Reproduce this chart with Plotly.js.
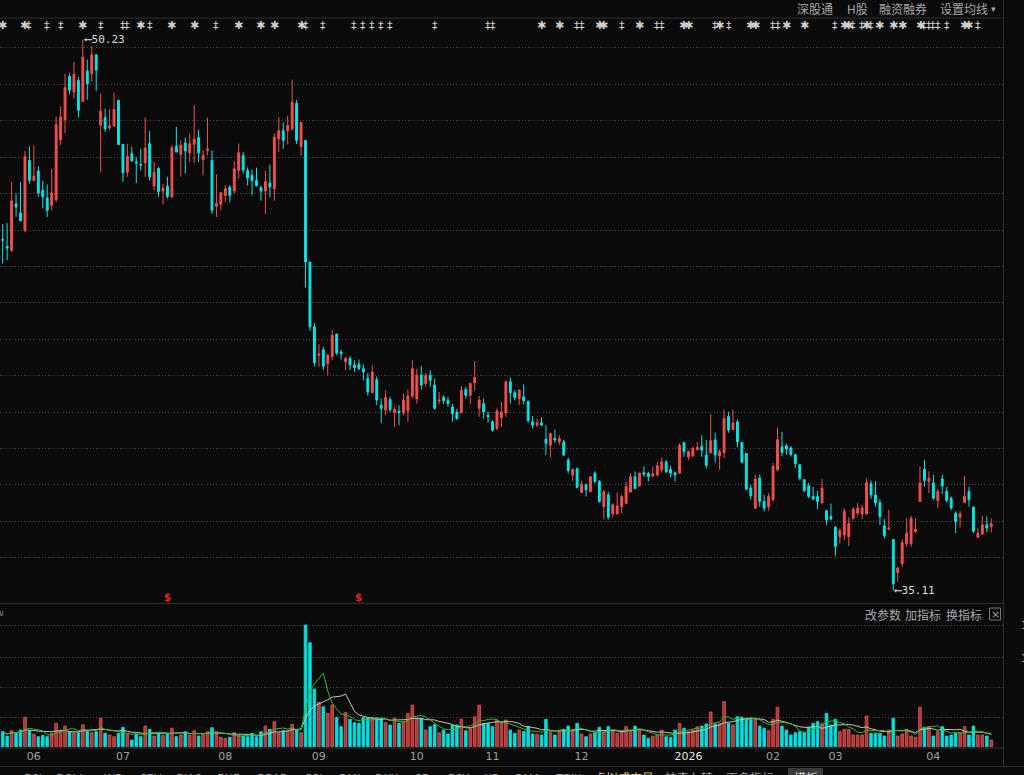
<!DOCTYPE html>
<html><head><meta charset="utf-8">
<script src="https://cdn.plot.ly/plotly-3.0.1.min.js"></script>
<style>html,body{margin:0;padding:0;background:#0a0a0a;overflow:hidden}#chart{width:1024px;height:775px}</style>
</head><body><div id="chart"></div>
<script>
// ---- price data (one entry per trading day) ----
const openP = [44.74,44.55,44.44,45.72,45.47,44.99,46.91,46.36,46.62,46.09,
45.88,45.68,45.83,47.48,48.03,49.22,48.79,49.11,48.53,49.37,
49.29,49.81,47.88,48.09,47.81,47.86,48.56,47.35,46.59,47.10,
46.87,46.80,46.84,47.37,46.21,46.69,46.07,46.20,45.91,47.30,
47.08,47.39,47.12,47.35,47.54,46.93,47.19,46.91,45.65,45.71,
45.95,46.18,46.07,46.64,47.05,46.63,46.50,46.36,46.16,46.07,
46.29,46.13,47.50,47.73,47.73,47.78,48.48,47.29,47.46,44.12,
42.34,41.56,41.71,41.33,41.53,42.14,41.65,41.38,41.47,41.29,
41.31,41.19,40.92,40.53,40.89,40.19,40.05,40.34,39.98,40.02,
39.98,40.03,40.44,40.37,41.01,40.78,41.01,40.74,40.30,40.40,
40.31,40.14,40.00,39.98,40.62,40.46,40.80,40.10,40.23,39.91,
39.73,39.55,39.85,39.98,40.83,40.53,40.37,40.42,40.29,39.73,
39.64,39.70,39.25,39.09,39.27,39.18,39.18,38.68,38.27,38.44,
37.79,38.00,37.81,38.32,38.09,37.40,37.72,37.20,37.20,37.40,
37.49,37.80,38.22,37.97,38.33,38.31,38.24,38.27,38.41,38.63,
38.42,38.33,38.32,39.16,38.77,38.79,38.97,39.06,38.82,38.88,
39.23,38.79,38.88,39.87,39.52,39.73,39.16,38.86,37.91,37.36,
38.18,37.54,37.40,37.59,38.41,39.04,39.07,39.01,38.83,38.55,
38.14,37.97,37.68,37.68,37.50,37.29,37.13,36.83,36.58,36.62,
36.58,37.08,37.22,37.20,37.20,38.03,37.72,37.51,36.87,36.78,
36.50,35.59,35.83,36.38,36.38,36.72,37.54,38.43,38.09,38.05,
37.57,38.16,37.82,37.63,37.22,37.11,37.51,37.82,37.39,36.56,
36.65,36.90,36.85];
const highP = [45.16,45.19,46.32,46.00,46.32,47.17,47.30,47.33,46.75,46.35,
46.25,46.68,48.12,48.40,49.29,49.31,49.62,49.20,50.23,49.68,
50.05,49.83,48.75,48.33,48.33,48.77,48.58,47.37,47.37,47.28,
47.00,47.23,48.09,47.72,46.87,46.73,46.27,46.46,47.33,47.83,
47.46,47.54,47.65,48.43,47.76,47.19,48.09,47.19,46.53,46.04,
46.23,46.23,46.90,47.37,47.14,46.72,46.65,46.71,46.22,46.63,
46.80,47.66,48.10,47.96,48.14,49.13,48.57,47.96,47.46,44.12,
42.45,41.86,41.79,41.60,42.26,42.15,41.71,41.51,41.53,41.42,
41.44,41.31,41.07,41.28,40.98,40.37,40.60,40.42,40.14,40.19,
40.51,40.62,41.42,41.19,41.26,41.07,41.15,40.92,40.55,40.46,
40.42,40.23,40.09,40.71,40.69,40.80,41.40,40.44,40.37,40.01,
39.78,40.10,40.28,40.87,40.95,40.60,40.62,40.76,40.31,39.89,
39.82,39.85,39.64,39.41,39.52,39.37,39.23,38.75,38.45,38.48,
38.11,38.04,38.24,38.36,38.13,37.86,37.81,37.49,37.79,37.72,
38.09,38.31,38.36,38.33,38.51,38.36,38.50,38.63,38.75,38.68,
38.52,38.36,39.14,39.18,38.94,39.05,39.18,39.36,39.23,39.94,
39.43,38.97,40.07,40.00,40.07,39.79,39.18,38.87,38.00,38.28,
38.28,37.72,37.77,38.60,39.56,39.45,39.13,39.06,38.85,38.58,
38.16,38.05,37.94,37.84,38.16,37.31,37.48,36.87,36.81,37.36,
37.11,37.39,37.50,37.45,38.18,38.12,38.10,37.61,37.06,37.31,
36.50,35.75,36.50,37.08,37.15,37.08,38.50,38.69,38.37,38.28,
37.88,38.28,37.94,37.68,37.27,37.27,38.25,37.94,37.39,36.81,
37.15,37.13,37.08];
const lowP = [44.08,44.17,44.40,45.36,45.25,44.94,46.27,46.36,45.91,45.59,
45.36,45.54,45.77,47.33,47.66,48.73,48.61,48.09,48.52,48.58,
49.07,48.81,46.59,47.69,47.74,47.83,47.33,46.32,46.46,46.87,
46.29,46.64,46.46,46.36,46.09,45.91,45.70,45.86,45.89,47.14,
46.47,46.55,46.87,46.84,46.87,46.50,47.05,45.45,45.36,45.54,
45.77,45.77,46.00,46.41,46.55,46.22,45.95,46.19,45.81,45.44,
45.90,45.81,47.14,47.23,47.35,47.73,47.36,47.04,43.43,42.23,
41.26,41.24,41.15,41.01,41.42,41.56,41.44,41.15,41.15,41.10,
41.15,40.87,40.44,40.53,40.19,39.70,39.91,40.01,39.59,39.64,
39.91,39.73,40.37,40.23,40.62,40.69,40.69,40.07,40.21,40.21,
40.14,39.73,39.78,39.96,40.37,40.21,40.60,39.87,39.82,39.71,
39.46,39.50,39.59,39.87,40.23,40.32,40.19,40.21,39.70,39.55,
39.59,39.61,38.82,38.75,39.16,39.09,38.79,38.31,38.11,37.90,
37.79,37.68,37.81,38.04,37.51,37.05,37.05,37.11,37.20,37.22,
37.47,37.79,37.88,37.95,38.22,38.09,38.22,38.24,38.33,38.32,
38.21,38.09,38.30,38.77,38.68,38.77,38.94,38.77,38.45,38.86,
38.61,38.41,38.73,39.43,39.50,39.03,38.59,37.85,37.59,37.33,
37.40,37.27,37.29,37.54,38.37,38.78,38.83,38.78,38.46,38.12,
37.79,37.63,37.57,37.33,37.50,36.90,37.02,36.05,36.39,36.49,
36.32,37.04,37.17,37.06,37.17,37.61,37.40,36.90,36.53,36.76,
35.11,35.34,35.75,36.30,36.30,36.67,37.54,37.95,37.77,37.59,
37.36,37.75,37.51,37.31,36.67,36.83,37.50,37.40,36.67,36.53,
36.62,36.69,36.69];
const closeP = [44.72,44.50,45.80,45.63,45.25,47.02,46.36,46.48,46.02,45.91,
45.54,46.02,47.89,48.10,48.91,48.84,49.28,48.29,49.75,49.02,
49.81,49.39,48.26,47.78,47.86,48.31,47.35,46.57,47.02,46.90,
46.84,46.78,47.25,46.46,46.59,46.06,46.15,45.92,47.26,47.14,
47.33,47.17,47.37,47.49,47.12,47.05,47.23,45.54,45.72,46.02,
46.13,45.95,46.68,47.12,46.64,46.43,46.36,46.22,46.07,46.33,
46.18,47.55,47.73,47.46,47.87,48.51,47.46,47.96,44.12,42.34,
41.35,41.59,41.26,41.56,42.11,41.62,41.60,41.47,41.29,41.22,
41.19,41.10,40.55,41.10,40.33,40.10,40.40,40.07,40.07,39.98,
40.33,40.44,41.19,41.01,40.74,41.01,40.87,40.10,40.33,40.31,
40.23,39.96,39.82,40.60,40.46,40.78,40.95,40.33,40.00,39.87,
39.50,40.03,40.00,40.83,40.53,40.40,40.60,40.31,39.76,39.64,
39.70,39.64,39.14,39.41,39.23,39.27,38.82,38.39,38.42,37.93,
38.02,37.86,38.22,38.09,37.54,37.81,37.11,37.45,37.42,37.68,
37.95,38.22,37.90,38.32,38.29,38.22,38.30,38.52,38.63,38.36,
38.32,38.27,39.09,38.91,38.91,39.00,39.03,38.95,38.54,39.21,
38.82,38.91,39.82,39.50,39.70,39.18,38.62,37.88,37.70,38.16,
37.54,37.36,37.68,38.50,39.24,38.89,38.98,38.83,38.58,38.18,
37.84,37.68,37.61,37.54,37.91,37.04,37.06,36.30,36.74,37.27,
36.93,37.33,37.36,37.36,38.06,37.72,37.50,37.13,36.60,36.81,
35.28,35.71,36.41,36.67,37.08,36.78,38.05,38.12,38.18,37.63,
37.82,37.97,37.57,37.36,36.99,37.20,37.68,37.59,36.72,36.67,
36.90,36.81,36.93];
// volume (万手)
const volume = [2.03,1.44,2.16,1.81,2.25,3.97,2.16,1.71,1.35,1.53,
1.35,1.81,3.16,2.25,2.79,2.03,1.89,1.89,2.97,2.16,
1.89,2.03,3.84,1.81,1.58,1.35,1.81,2.62,1.71,0.90,
1.71,1.35,2.79,2.35,1.44,1.71,1.53,1.81,2.49,1.35,
1.58,2.03,1.58,2.16,1.44,1.71,2.03,2.57,2.03,1.27,
1.13,1.27,1.89,1.58,1.44,1.35,1.81,1.35,2.03,2.79,
2.35,3.38,1.89,2.16,2.12,3.03,2.25,1.89,16.44,14.05,
7.79,6.00,5.40,4.51,5.63,3.97,2.70,4.65,3.70,3.24,
3.16,3.92,3.92,3.92,3.92,3.84,3.24,2.93,3.84,3.16,
3.38,4.51,5.63,3.84,3.84,2.25,2.70,2.97,1.89,2.25,
1.71,2.93,2.93,3.70,2.16,2.49,4.05,5.63,3.16,3.16,
2.70,3.61,3.24,3.61,2.25,1.81,2.25,2.03,2.70,1.71,
1.71,1.58,3.70,2.03,1.58,2.03,2.35,2.79,2.35,3.16,
1.71,1.35,1.71,1.89,2.62,2.03,2.70,2.25,1.81,2.03,
2.70,2.25,2.79,2.25,1.58,1.13,1.44,1.58,2.25,1.35,
1.27,2.25,3.16,2.49,2.03,2.25,2.70,2.79,3.07,4.69,
3.07,3.16,6.08,3.16,2.93,4.05,3.97,3.84,3.84,3.70,
2.79,2.49,2.16,3.70,5.32,2.79,2.25,1.58,1.89,2.03,
1.89,2.62,3.16,3.38,3.16,4.51,2.93,3.70,2.03,2.35,
2.35,1.58,1.58,1.58,4.15,1.81,1.81,1.81,1.44,2.25,
3.84,1.44,1.71,2.25,1.44,1.27,5.32,2.62,2.70,1.44,
2.03,2.70,1.44,1.58,1.81,1.81,2.70,1.58,2.79,1.58,
1.58,1.44,0.90];
// month ticks (index of first trading day of each month)
const monthTickIdx = [7,27,50,71,93,110,130,154,173,187,209];
const monthTickText = ['06','07','08','09','10','11','12','2026','02','03','04'];
// information-mine flags along the top, and dividend flags
const starIdx = [0,5,18,31,38,43,53,58,61,67,121,125,134,135,143,153,154,161,168,169,176,180,189,190,194,197,200,202,206,216,217];
const daggerIdx = [6,10,13,22,27,28,33,48,68,72,79,81,83,85,87,97,109,110,129,130,139,147,148,160,163,173,174,187,191,193,195,207,208,209,210,212,219];
const dollarIdx = [37,80];

// ---- geometry helpers (pixel -> paper) ----
const PW = 1003, PT = 18, PB = 748, PH = PB - PT;
const px = p => p / PW;
const py = p => (PB - p) / PH;

const idx = openP.map((_, i) => i);
const upC = '#f24f4f', dnC = '#00e6e6';
const isUp = closeP.map((c, i) => c >= openP[i]);
const volFill = isUp.map(u => u ? '#a83a3a' : '#00e0e0');
const volLine = isUp.map(u => u ? '#ec5252' : '#00e0e0');
function ma(arr, n) {
  return arr.map((_, i) => { const s = Math.max(0, i - n + 1); let t = 0; for (let k = s; k <= i; k++) t += arr[k]; return t / (i - s + 1); });
}
const maxVol = Math.max(...volume);
let iMax = 0, iMin = 0;
highP.forEach((h, i) => { if (h > highP[iMax]) iMax = i; });
lowP.forEach((l, i) => { if (l < lowP[iMin]) iMin = i; });

const priceGrid = [];
for (let v = 36; v <= 50; v++) priceGrid.push(v);

const traces = [
  {type: 'candlestick', x: idx, open: openP, high: highP, low: lowP, close: closeP, xaxis: 'x', yaxis: 'y',
   increasing: {line: {color: upC, width: 1}, fillcolor: upC},
   decreasing: {line: {color: dnC, width: 1}, fillcolor: dnC},
   whiskerwidth: 0, hoverinfo: 'skip', showlegend: false},
  {type: 'bar', x: idx, y: volume, xaxis: 'x2', yaxis: 'y2', marker: {color: volFill, line: {color: volLine, width: 0.8}}, hoverinfo: 'skip', showlegend: false},
  {type: 'scatter', mode: 'lines', x: idx, y: ma(volume, 10), xaxis: 'x2', yaxis: 'y2', line: {color: '#c4c4c4', width: 1}, hoverinfo: 'skip', showlegend: false},
  {type: 'scatter', mode: 'lines', x: idx, y: ma(volume, 5), xaxis: 'x2', yaxis: 'y2', line: {color: '#22c422', width: 1}, hoverinfo: 'skip', showlegend: false}
];

const lineC = '#2e2e2e';
const shapes = [
  {type: 'line', xref: 'paper', yref: 'paper', x0: 0, x1: px(1003.5), y0: py(18), y1: py(18), line: {color: lineC, width: 1}},
  {type: 'line', xref: 'paper', yref: 'paper', x0: 0, x1: px(1003.5), y0: py(603.5), y1: py(603.5), line: {color: lineC, width: 1}},
  {type: 'line', xref: 'paper', yref: 'paper', x0: 0, x1: px(1003.5), y0: py(748), y1: py(748), line: {color: lineC, width: 1}},
  {type: 'line', xref: 'paper', yref: 'paper', x0: 0, x1: px(1024), y0: py(766.5), y1: py(766.5), line: {color: lineC, width: 1}},
  {type: 'line', xref: 'paper', yref: 'paper', x0: px(1003.5), x1: px(1003.5), y0: py(0), y1: py(766), line: {color: lineC, width: 1}},
  {type: 'rect', xref: 'paper', yref: 'paper', x0: px(989.5), x1: px(1000.5), y0: py(620), y1: py(608), line: {color: '#777', width: 1}},
  {type: 'rect', xref: 'paper', yref: 'paper', x0: px(788), x1: px(823), y0: py(775), y1: py(768), fillcolor: '#3a3a3a', line: {width: 0}}
];

const cjk = 'Noto Sans CJK SC, sans-serif';
const ann = [];
function txt(t, x, y, opt) {
  ann.push(Object.assign({text: t, x: px(x), y: py(y), xref: 'paper', yref: 'paper', showarrow: false,
    xanchor: 'center', yanchor: 'middle', font: {family: cjk, size: 12, color: '#a8a8a8'}}, opt || {}));
}
// header
txt('深股通', 815, 9); txt('H股', 857, 9); txt('融资融券', 903, 9); txt('设置均线', 964, 9); txt('▾', 993, 9, {font: {family: 'DejaVu Sans', size: 9, color: '#a8a8a8'}});
// volume panel header
txt('改参数', 883, 614); txt('加指标', 923, 614); txt('换指标', 964, 614);
txt('×', 995, 614, {font: {family: 'DejaVu Sans', size: 11, color: '#999'}});
txt('v', 1, 613, {font: {family: 'DejaVu Sans', size: 8, color: '#999'}});
// bottom tabs (partly cut by the window)
const tabs = [['RSI',33],['BOLL',71],['WR',113],['CRV',150],['BIAS',189],['ENE',228],['BRAR',272],['CCI',313],['DMI',350],['DKX',386],['CR',422],['PSY',458],['KD',492],['DMA',528],['TRIX',568],['虚拟成交量',624],['神奇九转',689],['更多指标',750],['模板',806]];
tabs.forEach(([t, x]) => txt(t, x, 767, {yanchor: 'top', font: {family: cjk, size: 12, color: t === '虚拟成交量' ? '#d8c878' : (t === '模板' ? '#dddddd' : '#9a9a9a')}}));
// volume axis labels (cut at right edge)
txt('1', 1019, 625, {xanchor: 'left', font: {family: 'DejaVu Sans', size: 11, color: '#aaa'}});
txt('1', 1019, 658, {xanchor: 'left', font: {family: 'DejaVu Sans', size: 11, color: '#aaa'}});
// flags
starIdx.forEach(i => ann.push({text: '✱', x: i, xref: 'x', y: py(25), yref: 'paper', xanchor: 'center', yanchor: 'middle', showarrow: false, font: {family: 'DejaVu Sans', size: 11, color: '#cfcfcf'}}));
daggerIdx.forEach(i => ann.push({text: '‡', x: i, xref: 'x', y: py(25), yref: 'paper', xanchor: 'center', yanchor: 'middle', showarrow: false, font: {family: 'DejaVu Sans', size: 11, color: '#cfcfcf'}}));
dollarIdx.forEach(i => ann.push({text: '<b>$</b>', x: i, xref: 'x', y: py(597), yref: 'paper', xanchor: 'center', yanchor: 'middle', showarrow: false, font: {family: 'DejaVu Sans', size: 10, color: '#ff2020'}}));
// max / min labels
ann.push({text: '⟵' + highP[iMax].toFixed(2), x: iMax, y: highP[iMax], xref: 'x', yref: 'y', showarrow: false, xanchor: 'left', yanchor: 'middle', xshift: -1, font: {family: 'DejaVu Sans Mono', size: 11, color: '#dddddd'}});
ann.push({text: '⟵' + lowP[iMin].toFixed(2), x: iMin, y: lowP[iMin], xref: 'x', yref: 'y', showarrow: false, xanchor: 'left', yanchor: 'middle', xshift: -1, font: {family: 'DejaVu Sans Mono', size: 11, color: '#dddddd'}});

const xRange = [-0.606, 224.64];
const layout = {
  width: 1024, height: 775, paper_bgcolor: '#0a0a0a', plot_bgcolor: '#0a0a0a',
  margin: {l: 0, r: 21, t: 18, b: 27, pad: 0, autoexpand: false}, showlegend: false, boxgap: 0.4, bargap: 0.4,
  xaxis: {domain: [0, 1], range: xRange, anchor: 'y', showticklabels: false, showgrid: false, zeroline: false, rangeslider: {visible: false}, ticks: ''},
  yaxis: {domain: [py(603.5), 1], range: [34.739, 50.824], tickvals: priceGrid, showticklabels: false, showgrid: true,
          gridcolor: '#4a4a4a', griddash: '1px,2px', gridwidth: 1, zeroline: false, side: 'right', ticks: ''},
  xaxis2: {domain: [0, 1], range: xRange, anchor: 'y2', matches: 'x', tickmode: 'array', tickvals: monthTickIdx,
           ticktext: monthTickText.map(t => t === '2026' ? '<span style="color:#e6e6e6">2026</span>' : t),
           tickfont: {family: 'DejaVu Sans', size: 11, color: '#a0a0a0'}, showgrid: false, zeroline: false, ticks: ''},
  yaxis2: {domain: [0, py(604)], range: [-0.176, 19.28], tickvals: [4, 8, 12, maxVol], showticklabels: false,
           showgrid: true, gridcolor: '#4a4a4a', griddash: '1px,2px', gridwidth: 1, zeroline: false, side: 'right', ticks: ''},
  shapes: shapes, annotations: ann
};
Plotly.newPlot('chart', traces, layout, {staticPlot: true, displayModeBar: false});
</script>
</body></html>
